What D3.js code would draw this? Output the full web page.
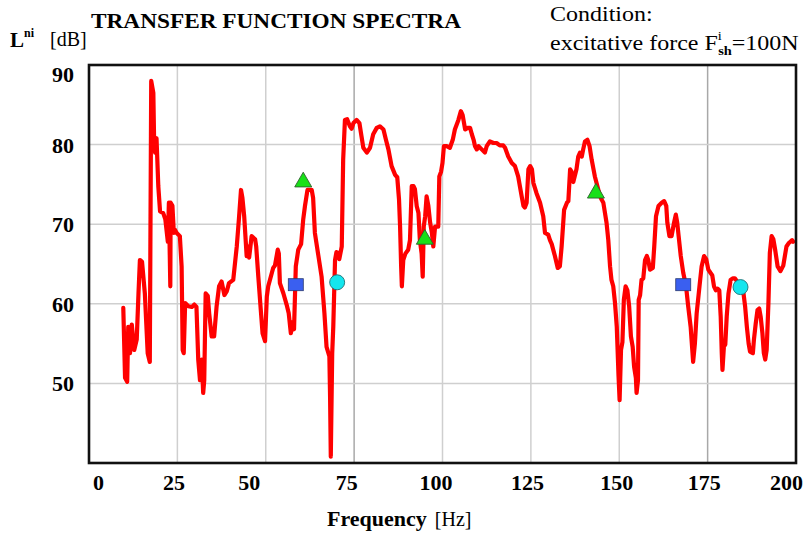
<!DOCTYPE html>
<html>
<head>
<meta charset="utf-8">
<script src="https://cdn.jsdelivr.net/npm/d3@7"></script>
<style>
  body { margin: 0; background: #fff; }
  svg { display: block; }
  text { font-family: "Liberation Serif", "Times New Roman", serif; fill: #000; }
</style>
</head>
<body>
<div id="chart"></div>
<script>

// data
const xTicks = [0, 25, 50, 75, 100, 125, 150, 175, 200];
const yTicks = [50, 60, 70, 80, 90];

const spectrumHz = [
	9.7, 10.2, 10.8, 11.1, 11.6, 12.1, 12.8, 13.5, 14.0, 14.4, 15.0, 15.8, 16.6, 17.2, 17.6, 18.2, 18.4, 18.7, 19.1, 19.6,
	20.1, 21.0, 21.6, 22.3, 22.6, 23.0, 23.1, 23.6, 24.0, 24.3, 24.8, 25.7, 26.2, 26.5, 26.8, 27.2, 28.1, 29.1, 29.8, 30.4,
	30.9, 31.4, 31.9, 32.3, 32.6, 33.0, 33.6, 34.0, 34.7, 35.4, 36.1, 36.8, 37.5, 38.3, 39.0, 39.6, 40.8, 41.8, 42.4, 43.0,
	43.4, 43.9, 44.6, 45.0, 45.3, 46.0, 47.0, 47.3, 47.9, 48.6, 49.1, 49.8, 50.3, 50.7, 52.1, 52.6, 53.4, 53.7, 54.0, 55.0,
	55.9, 56.5, 57.1, 57.6, 58.0, 58.5, 59.2, 60.0, 60.6, 61.1, 61.8, 63.0, 63.4, 63.9, 64.9, 65.8, 66.6, 67.2, 68.0, 68.2,
	68.4, 68.8, 69.1, 69.6, 70.0, 70.5, 70.8, 71.5, 71.9, 72.4, 73.0, 73.8, 74.3, 74.8, 75.7, 76.5, 77.1, 77.6, 78.6, 79.5,
	80.4, 81.4, 82.3, 83.3, 84.0, 84.7, 85.6, 86.6, 87.2, 87.7, 88.0, 88.3, 88.5, 88.9, 89.5, 90.3, 90.8, 91.3, 91.8, 92.2,
	92.7, 93.2, 93.6, 94.1, 94.4, 94.7, 95.1, 95.5, 96.0, 96.5, 97.0, 97.4, 97.9, 98.8, 99.1, 99.6, 100.0, 100.4, 101.2, 102.1,
	102.9, 103.5, 104.5, 105.2, 105.7, 106.4, 107.1, 107.8, 108.3, 108.8, 109.2, 109.7, 110.2, 111.1, 112.0, 112.5, 113.4, 114.4, 115.3, 116.2,
	117.2, 117.7, 118.6, 119.6, 120.5, 121.4, 122.4, 122.9, 123.3, 123.8, 124.3, 124.8, 125.3, 125.7, 126.6, 127.6, 128.5, 129.0, 129.9, 130.4,
	130.9, 131.8, 132.6, 133.2, 133.7, 134.4, 135.2, 135.6, 136.1, 136.5, 137.0, 137.9, 138.4, 138.9, 139.4, 139.8, 140.3, 141.0, 141.6, 142.2,
	143.1, 144.1, 144.6, 145.0, 145.5, 146.4, 146.9, 147.4, 147.8, 148.3, 148.8, 149.3, 149.5, 149.8, 150.1, 150.5, 150.9, 151.3, 151.8, 152.3,
	152.8, 153.3, 153.8, 154.2, 154.7, 154.9, 155.3, 155.5, 155.9, 156.3, 156.8, 157.3, 157.8, 158.2, 158.7, 159.5, 159.9, 160.4, 161.1, 162.0,
	162.7, 163.3, 163.6, 164.2, 164.8, 165.5, 166.0, 166.4, 166.8, 167.4, 168.1, 168.9, 169.5, 170.2, 170.6, 170.9, 171.4, 171.9, 172.7, 173.3,
	174.0, 174.6, 175.2, 175.8, 176.3, 176.8, 177.3, 177.8, 178.3, 178.7, 179.0, 179.2, 179.6, 180.0, 180.4, 180.9, 181.5, 182.1, 182.7, 183.2,
	184.2, 184.9, 185.6, 186.1, 186.6, 187.0, 187.8, 188.1, 188.6, 189.1, 189.6, 190.0, 190.5, 190.9, 191.3, 191.7, 192.2, 192.6, 193.1, 193.6,
	194.1, 194.8, 195.6, 196.4, 197.3, 197.9, 198.4, 198.9, 199.2
];

const spectrumDb = [
	59.5, 50.7, 50.2, 57.1, 53.8, 57.4, 54.2, 55.5, 61.3, 65.5, 65.3, 61.3, 53.8, 52.7, 88.0, 86.5, 81.0, 79.0, 80.8, 74.8,
	71.6, 71.4, 70.6, 67.8, 72.7, 62.2, 72.7, 72.3, 68.9, 69.3, 68.9, 68.5, 64.7, 54.2, 53.8, 60.1, 59.7, 59.6, 59.9, 59.6,
	53.0, 50.4, 53.0, 48.8, 50.4, 61.3, 61.0, 58.8, 55.9, 55.9, 59.7, 62.2, 62.8, 61.1, 61.6, 62.6, 63.0, 67.2, 70.6, 74.3,
	73.3, 71.0, 66.0, 67.2, 65.8, 68.5, 68.1, 67.2, 63.4, 59.2, 56.3, 55.3, 60.9, 62.2, 64.5, 64.8, 66.8, 66.3, 62.6, 61.3,
	59.9, 58.8, 56.3, 57.7, 56.8, 64.7, 66.8, 67.5, 70.6, 72.3, 74.3, 74.3, 73.3, 68.9, 66.0, 63.4, 58.8, 54.6, 53.4, 48.3,
	40.8, 53.8, 57.1, 65.5, 66.5, 66.4, 65.6, 67.2, 78.1, 83.1, 83.2, 82.3, 82.0, 82.7, 83.1, 82.7, 81.0, 79.6, 79.0, 79.6,
	81.3, 82.1, 82.3, 81.9, 80.6, 79.4, 77.3, 76.2, 75.9, 73.1, 69.7, 64.7, 62.2, 65.5, 66.3, 66.8, 68.0, 74.8, 74.8, 74.4,
	72.3, 71.4, 68.0, 66.3, 63.4, 69.7, 71.0, 73.5, 72.3, 70.2, 68.9, 67.2, 69.7, 69.7, 76.0, 76.6, 77.7, 79.8, 79.8, 79.6,
	80.6, 81.9, 83.1, 84.2, 83.7, 81.9, 82.1, 82.1, 81.3, 80.6, 79.8, 79.4, 79.8, 79.4, 79.0, 79.8, 80.4, 80.2, 80.2, 79.9,
	79.9, 79.6, 78.5, 77.7, 77.3, 76.0, 73.5, 72.3, 72.1, 72.7, 76.9, 77.3, 76.9, 75.2, 73.9, 72.7, 71.0, 68.9, 68.7, 68.0,
	67.5, 66.0, 64.5, 64.7, 67.2, 71.8, 72.7, 72.9, 76.9, 76.6, 75.3, 76.9, 78.5, 79.0, 78.5, 79.4, 80.4, 80.6, 79.8, 78.1,
	76.0, 74.3, 73.5, 73.1, 72.7, 70.2, 68.0, 64.7, 63.0, 62.2, 60.1, 57.1, 54.6, 50.9, 47.9, 54.2, 55.2, 60.5, 62.2, 61.7,
	59.7, 55.9, 54.6, 52.1, 50.7, 48.8, 50.4, 60.5, 61.1, 63.0, 63.2, 65.5, 66.0, 65.5, 64.3, 64.5, 67.2, 71.0, 72.3, 72.7,
	72.9, 72.3, 70.2, 68.5, 68.5, 70.2, 71.2, 70.2, 68.5, 66.0, 63.9, 62.2, 59.7, 57.1, 54.6, 52.7, 55.0, 58.8, 62.2, 64.7,
	66.0, 65.6, 64.3, 63.9, 63.6, 62.2, 61.7, 61.9, 61.7, 58.4, 53.8, 51.7, 54.6, 54.9, 58.4, 61.3, 63.0, 63.2, 63.2, 62.9,
	62.2, 62.2, 59.7, 57.1, 55.0, 54.0, 53.8, 55.5, 57.5, 59.2, 59.4, 58.4, 56.3, 53.8, 53.0, 54.2, 60.1, 66.4, 68.5, 68.1,
	66.8, 64.7, 64.1, 64.8, 67.2, 67.6, 67.8, 68.0, 67.8
];

const triangleHz = [60.6, 95.0, 143.4];
const triangleDb = [75.3, 68.1, 73.9];
const squareHz = [58.5, 168.1];
const squareDb = [62.4, 62.4];
const circleHz = [70.2, 184.3];
const circleDb = [62.7, 62.1];

// layout
const W = 806, H = 533;
const margin = { top: 65, right: 10, bottom: 70, left: 89 };
const width = W - margin.left - margin.right;
const height = H - margin.top - margin.bottom;
const darkGrid = [75, 175];
// the printed tick labels sit a little off their grid lines
const xLabelNudge = { 0: 9, 25: -4, 50: -17, 75: -8, 100: -7, 125: -4, 150: -3, 175: -4, 200: -10 };

const svg = d3.select('#chart')
	.append('svg')
	.attr('width', W)
	.attr('height', H);

const chart = svg.append('g')
	.attr('transform', `translate(${margin.left},${margin.top})`);

const xScale = d3.scaleLinear().domain([0, 200]).range([0, width]);
const yScale = d3.scaleLinear().domain([40, 90]).range([height, 0]);

// grid
chart.append('g')
	.selectAll('line')
	.data(xTicks.slice(1, -1))
	.join('line')
	.attr('x1', d => xScale(d)).attr('x2', d => xScale(d))
	.attr('y1', 0).attr('y2', height)
	.attr('stroke', d => darkGrid.includes(d) ? '#a8a8a8' : '#cfcfcf')
	.attr('stroke-width', 1.5);

chart.append('g')
	.selectAll('line')
	.data(yTicks.slice(0, -1))
	.join('line')
	.attr('x1', 0).attr('x2', width)
	.attr('y1', d => yScale(d)).attr('y2', d => yScale(d))
	.attr('stroke', '#cfcfcf')
	.attr('stroke-width', 1.5);

// spectrum
const points = spectrumHz.map((f, i) => [f, spectrumDb[i]]);
const line = d3.line()
	.x(d => xScale(d[0]))
	.y(d => yScale(d[1]));

chart.append('path')
	.datum(points)
	.attr('d', line)
	.attr('fill', 'none')
	.attr('stroke', '#ff0000')
	.attr('stroke-width', 4.2)
	.attr('stroke-linejoin', 'round')
	.attr('stroke-linecap', 'round');

// markers
chart.append('g')
	.selectAll('rect')
	.data(squareHz.map((f, i) => [f, squareDb[i]]))
	.join('rect')
	.attr('x', d => xScale(d[0]) - 7.5)
	.attr('y', d => yScale(d[1]) - 6)
	.attr('width', 15).attr('height', 12)
	.attr('fill', '#3a5ff0')
	.attr('stroke', '#2a3a70')
	.attr('stroke-width', 0.8);

chart.append('g')
	.selectAll('circle')
	.data(circleHz.map((f, i) => [f, circleDb[i]]))
	.join('circle')
	.attr('cx', d => xScale(d[0]))
	.attr('cy', d => yScale(d[1]))
	.attr('r', 7.5)
	.attr('fill', '#14e6ee')
	.attr('stroke', '#1f6f73')
	.attr('stroke-width', 0.9);

chart.append('g')
	.selectAll('path')
	.data(triangleHz.map((f, i) => [f, triangleDb[i]]))
	.join('path')
	.attr('d', d3.symbol(d3.symbolTriangle, 125))
	.attr('transform', d => `translate(${xScale(d[0])},${yScale(d[1])})`)
	.attr('fill', '#18e018')
	.attr('stroke', '#2f5f2f')
	.attr('stroke-width', 0.9);

// frame
chart.append('rect')
	.attr('width', width).attr('height', height)
	.attr('fill', 'none')
	.attr('stroke', '#111')
	.attr('stroke-width', 2.6);

// axes
const xAxis = d3.axisBottom(xScale).tickValues(xTicks).tickSize(0).tickPadding(0);
const gx = chart.append('g')
	.attr('transform', `translate(0,${height})`)
	.call(xAxis);
gx.select('.domain').remove();
gx.selectAll('text')
	.attr('y', 27)
	.attr('dy', 0)
	.attr('dx', d => xLabelNudge[d])
	.attr('font-size', 22)
	.attr('font-weight', 'bold')
	.attr('font-family', '"Liberation Serif", serif')
	.attr('fill', '#000');

const yAxis = d3.axisLeft(yScale).tickValues(yTicks).tickSize(0).tickPadding(15);
const gy = chart.append('g').call(yAxis);
gy.select('.domain').remove();
gy.selectAll('text')
	.attr('dy', d => d === 90 ? '0.76em' : '0.34em')
	.attr('font-size', 22)
	.attr('font-weight', 'bold')
	.attr('font-family', '"Liberation Serif", serif')
	.attr('fill', '#000');

// titles
svg.append('text')
	.attr('x', 91).attr('y', 28)
	.attr('font-size', 22)
	.attr('font-weight', 'bold')
	.attr('textLength', 370)
	.attr('lengthAdjust', 'spacingAndGlyphs')
	.text('TRANSFER FUNCTION SPECTRA');

const yl = svg.append('text').attr('x', 10).attr('y', 47).attr('font-weight', 'bold');
yl.append('tspan').attr('font-size', 21).text('L');
yl.append('tspan').attr('font-size', 12).attr('dy', -10).text('ni');
yl.append('tspan').attr('font-size', 20).attr('font-weight', 'normal').attr('x', 50).attr('dy', 9).text('[dB]');

const cond = svg.append('g').attr('transform', 'translate(550,0) scale(1.2,1)');
cond.append('text').attr('x', 0).attr('y', 21).attr('font-size', 20).text('Condition:');
const force = cond.append('text').attr('x', 0).attr('y', 50).attr('font-size', 20);
force.append('tspan').text('excitative force F');
force.append('tspan').attr('font-size', 12).attr('dy', -10).text('i');
force.append('tspan').attr('font-size', 12).attr('font-weight', 'bold').attr('dy', 15).attr('dx', -3).text('sh');
force.append('tspan').attr('dy', -5).text('=100N');

const xl = svg.append('text').attr('x', 327).attr('y', 526);
xl.append('tspan').attr('font-size', 22).attr('font-weight', 'bold').text('Frequency');
xl.append('tspan').attr('font-size', 20).attr('dx', 8).text('[Hz]');

</script>
</body>
</html>
